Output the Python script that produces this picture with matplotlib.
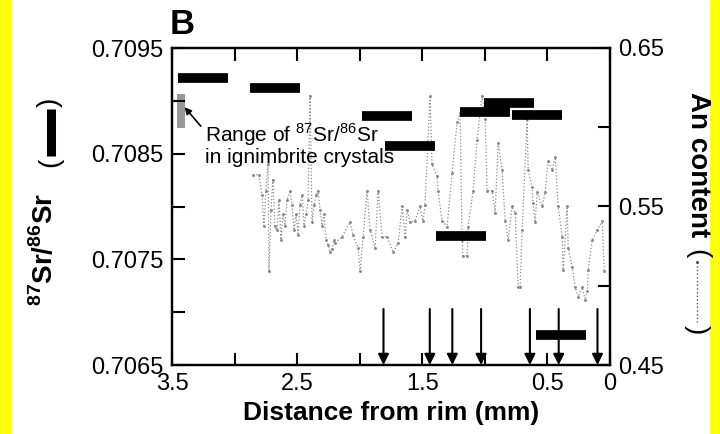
import numpy as np
import matplotlib
matplotlib.use("Agg")
from matplotlib import pyplot as plt
from matplotlib.patches import Rectangle
from matplotlib.lines import Line2D

plt.rcParams['font.family'] = ['Liberation Sans', 'DejaVu Sans']
plt.rcParams['mathtext.fontset'] = 'custom'
plt.rcParams['mathtext.rm'] = 'Liberation Sans'
plt.rcParams['mathtext.bf'] = 'Liberation Sans:bold'

# 87Sr/86Sr microdrill samples (black bars)
sr_dist = [3.25, 2.68, 1.78, 1.60, 1.00, 0.81, 0.58, 1.19, 0.39]
sr_val = [0.70922, 0.70912, 0.70886, 0.70857, 0.70889, 0.70898, 0.70887, 0.70772, 0.70678]
sr_halfwidth = 0.2

# An content profile
an_dist = [2.853, 2.805, 2.781, 2.765, 2.749, 2.733, 2.725, 2.709, 2.693, 2.677,
           2.661, 2.645, 2.629, 2.613, 2.597, 2.581, 2.557, 2.541, 2.525, 2.509,
           2.493, 2.477, 2.461, 2.445, 2.429, 2.413, 2.397, 2.381, 2.365, 2.349,
           2.333, 2.317, 2.301, 2.285, 2.269, 2.253, 2.237, 2.221, 2.205, 2.197,
           2.141, 2.077, 2.053, 2.013, 1.997, 1.973, 1.941, 1.917, 1.877, 1.853,
           1.821, 1.781, 1.733, 1.693, 1.661, 1.637, 1.621, 1.597, 1.558, 1.518,
           1.494, 1.478, 1.438, 1.422, 1.382, 1.374, 1.342, 1.302, 1.262, 1.222,
           1.198, 1.182, 1.174, 1.142, 1.134, 1.094, 1.062, 1.022, 0.998, 0.982,
           0.942, 0.918, 0.894, 0.862, 0.838, 0.814, 0.782, 0.758, 0.734, 0.718,
           0.702, 0.662, 0.654, 0.622, 0.614, 0.598, 0.582, 0.542, 0.518, 0.494,
           0.462, 0.438, 0.414, 0.382, 0.374, 0.342, 0.334, 0.302, 0.278, 0.254,
           0.222, 0.198, 0.182, 0.174, 0.142, 0.102, 0.062, 0.046]
an_val = [0.570, 0.570, 0.557, 0.538, 0.560, 0.577, 0.509, 0.548, 0.567, 0.538,
          0.535, 0.554, 0.529, 0.545, 0.538, 0.554, 0.560, 0.551, 0.535, 0.545,
          0.532, 0.551, 0.557, 0.538, 0.545, 0.554, 0.620, 0.540, 0.551, 0.557,
          0.560, 0.548, 0.538, 0.545, 0.529, 0.526, 0.521, 0.523, 0.529, 0.527,
          0.531, 0.540, 0.532, 0.524, 0.509, 0.531, 0.560, 0.535, 0.524, 0.560,
          0.531, 0.531, 0.521, 0.527, 0.550, 0.531, 0.548, 0.540, 0.541, 0.550,
          0.541, 0.551, 0.620, 0.577, 0.569, 0.560, 0.541, 0.537, 0.571, 0.603,
          0.609, 0.529, 0.519, 0.519, 0.537, 0.560, 0.592, 0.620, 0.605, 0.560,
          0.560, 0.546, 0.590, 0.573, 0.541, 0.529, 0.550, 0.546, 0.499, 0.499,
          0.535, 0.605, 0.573, 0.562, 0.552, 0.540, 0.559, 0.550, 0.559, 0.579,
          0.573, 0.581, 0.550, 0.531, 0.510, 0.550, 0.524, 0.512, 0.499, 0.493,
          0.499, 0.491, 0.497, 0.510, 0.529, 0.535, 0.541, 0.509]

# sample positions (arrows)
arrow_dist = [1.81, 1.44, 1.26, 1.03, 0.64, 0.41, 0.10]

# ignimbrite crystal range (grey box)
ign_lo, ign_hi = 0.70874, 0.70906

xticks = [3.5, 3.0, 2.5, 2.0, 1.5, 1.0, 0.5, 0.0]
xticklabels = ['3.5', '', '2.5', '', '1.5', '', '0.5', '0']
yticks = [0.7065, 0.7070, 0.7075, 0.7080, 0.7085, 0.7090, 0.7095]
yticklabels = ['0.7065', '', '0.7075', '', '0.7085', '', '0.7095']
y2ticks = [0.45, 0.50, 0.55, 0.60, 0.65]
y2ticklabels = ['0.45', '', '0.55', '', '0.65']

W, H = 720, 434
fig = plt.figure(figsize=(7.2, 4.34), dpi=100)
fig.patches.append(Rectangle((0, 0), 10 / W, 1, transform=fig.transFigure,
                             color='#ffff00', zorder=0))
fig.patches.append(Rectangle((710 / W, 0), 10 / W, 1, transform=fig.transFigure,
                             color='#ffff00', zorder=0))

ax = fig.add_axes([172 / W, 1 - 365 / H, 438 / W, 317 / H])
ax2 = ax.twinx()
ax.set_zorder(ax2.get_zorder() + 1)
ax.patch.set_visible(False)

ax2.plot(an_dist, an_val, color='#8a8a8a', lw=0.9, ls=':', marker='.', ms=2.2)
ax2.set_ylim(0.45, 0.65)

ax.errorbar(sr_dist, sr_val, xerr=sr_halfwidth, fmt='none', ecolor='k',
            elinewidth=7, capsize=0)
ax.add_patch(Rectangle((3.40, ign_lo), 0.06, ign_hi - ign_lo, color='#999999', lw=0))

for d in arrow_dist:
    ax.annotate('', xy=(d, 0.7065), xytext=(d, 0.70703),
                arrowprops=dict(arrowstyle='-|>', color='k', lw=1.5, mutation_scale=16,
                                shrinkA=0, shrinkB=0))

ax.annotate('Range of $^{87}$Sr/$^{86}$Sr\nin ignimbrite crystals',
            xy=(3.40, 0.70894), xytext=(3.24, 0.70859), fontsize=15,
            ha='left', va='center', linespacing=1.0,
            arrowprops=dict(arrowstyle='-|>', color='k', lw=1.2, mutation_scale=10,
                            relpos=(0, 0.8), shrinkA=1, shrinkB=0))

ax.set_xlim(3.5, 0)
ax.set_ylim(0.7065, 0.7095)
ax.set_xticks(xticks)
ax.set_xticklabels(xticklabels)
ax.set_yticks(yticks)
ax.set_yticklabels(yticklabels)
ax2.set_yticks(y2ticks)
ax2.set_yticklabels(y2ticklabels)

ax.tick_params(axis='both', direction='in', length=9, width=1.5, labelsize=17,
               top=True, pad=6)
ax2.tick_params(axis='y', direction='in', length=9, width=1.5, labelsize=17, pad=6)
for a in (ax, ax2):
    for s in a.spines.values():
        s.set_linewidth(1.6)

ax.set_xlabel('Distance from rim (mm)', fontsize=19, fontweight='bold', labelpad=4)

# left axis title with a black bar key
fig.text(44 / W, 1 - 249 / H, r'$^{\mathbf{87}}\mathbf{Sr/}^{\mathbf{86}}\mathbf{Sr}$',
         fontsize=20, rotation=90, ha='center', va='center')
fig.text(50 / W, 1 - 162 / H, '(', fontsize=20, rotation=90, ha='center', va='center')
fig.text(50 / W, 1 - 102 / H, ')', fontsize=20, rotation=90, ha='center', va='center')
fig.lines.append(Line2D([51 / W, 51 / W], [1 - 156 / H, 1 - 109 / H],
                        transform=fig.transFigure, color='k', lw=6.5,
                        solid_capstyle='butt'))

# right axis title with a dotted line key
fig.text(698 / W, 1 - 165 / H, 'An content', fontsize=20, fontweight='bold',
         rotation=270, ha='center', va='center')
fig.text(697 / W, 1 - 254 / H, '(', fontsize=20, rotation=270, ha='center', va='center')
fig.text(697 / W, 1 - 330 / H, ')', fontsize=20, rotation=270, ha='center', va='center')
fig.lines.append(Line2D([697 / W, 697 / W], [1 - 262 / H, 1 - 322 / H],
                        transform=fig.transFigure, color='#555555', lw=1.0, ls=':',
                        marker='.', ms=2.5, markevery=3))

fig.text(170 / W, 1 - 8 / H, 'B', fontsize=25, fontweight='bold', ha='left', va='top')

fig.savefig('out.png', dpi=100)
